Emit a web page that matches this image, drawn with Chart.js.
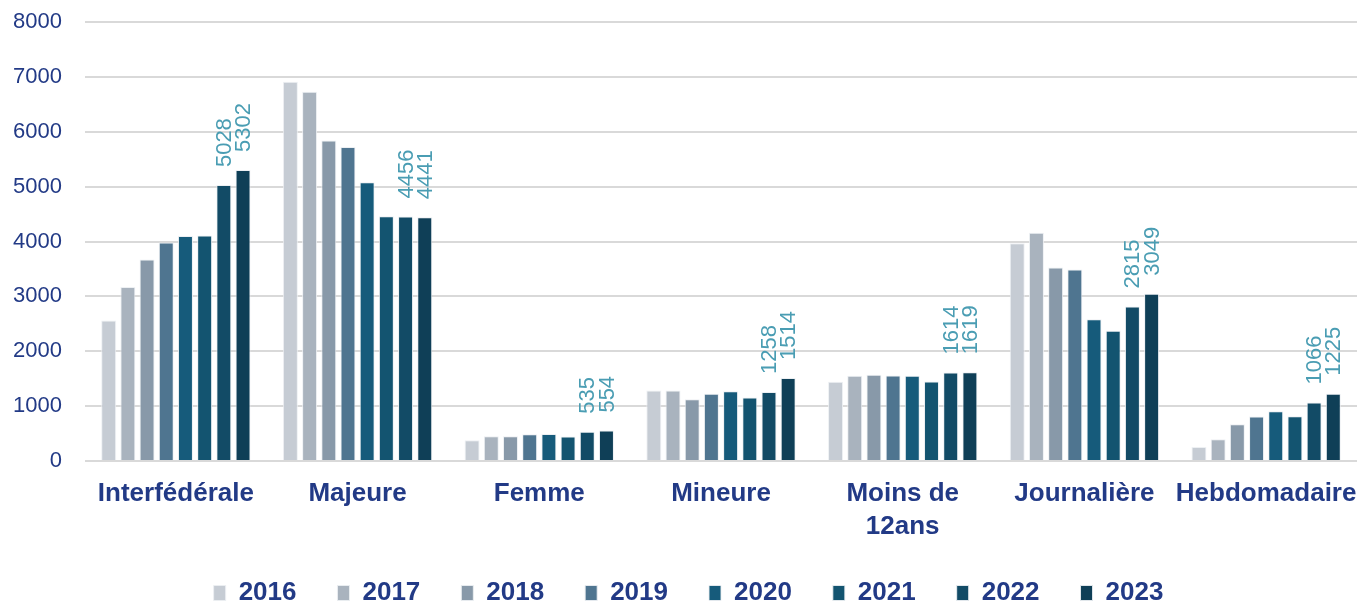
<!DOCTYPE html>
<html>
<head>
<meta charset="utf-8">
<script src="https://cdn.jsdelivr.net/npm/chart.js@4/dist/chart.umd.min.js"></script>
<style>
html,body{margin:0;padding:0;background:#fff;}
#wrap{width:1357px;height:601px;position:relative;}
</style>
</head>
<body>
<div id="wrap"><canvas id="graf"></canvas></div>
<script>
const categories=['Interfédérale','Majeure','Femme','Mineure',['Moins de','12ans'],'Journalière','Hebdomadaire'];
const years=['2016','2017','2018','2019','2020','2021','2022','2023'];
const v2016=[2560,6910,380,1284,1443,3970,256];
const v2017=[3170,6730,450,1284,1553,4159,396];
const v2018=[3670,5840,450,1127,1571,3525,670];
const v2019=[3980,5720,487,1224,1559,3489,810];
const v2020=[4100,5080,493,1273,1553,2581,907];
const v2021=[4110,4460,445,1157,1449,2374,816];
const v2022=[5028,4456,535,1258,1614,2815,1066];
const v2023=[5302,4441,554,1514,1619,3049,1225];
const yTicks=[0,1000,2000,3000,4000,5000,6000,7000,8000];

const series=[v2016,v2017,v2018,v2019,v2020,v2021,v2022,v2023];
const couleurs=['#c6ccd4','#a9b3be','#8899a9','#4f7590','#165b7b','#135470','#124b66','#0f3f57'];
const NAVY='#223a86';
const FONT='"Liberation Sans", Arial, sans-serif';
const ETIQ=[6,7]; // datasets avec etiquettes

// etiquettes verticales au-dessus des barres
const etiquettes={
 id:'etiquettes',
 afterLayout(chart){
  // petit decalage de la legende vers la droite
  if(chart.legend){chart.legend.left+=4;chart.legend.right+=4;}
 },
 afterDatasetsDraw(chart){
  const ctx=chart.ctx;
  ctx.save();
  ctx.font='22px '+FONT;
  ctx.fillStyle='#4a9db3';
  ctx.textAlign='left';
  ctx.textBaseline='middle';
  ETIQ.forEach(di=>{
   const meta=chart.getDatasetMeta(di);
   meta.data.forEach((bar,i)=>{
    ctx.save();
    ctx.translate(bar.x,bar.y-18);
    ctx.rotate(-Math.PI/2);
    ctx.fillText(String(chart.data.datasets[di].data[i]),0,1);
    ctx.restore();
   });
  });
  ctx.restore();
 }
};

const ctx=document.getElementById('graf').getContext('2d');
new Chart(ctx,{
 type:'bar',
 data:{
  labels:categories,
  datasets:years.map((y,i)=>({
   label:y,
   data:series[i],
   backgroundColor:couleurs[i],
   borderColor:'rgba(235,238,242,0.9)',
   borderWidth:1,
   barPercentage:0.78,
   categoryPercentage:0.845
  }))
 },
 options:{
  responsive:true,
  maintainAspectRatio:false,
  animation:false,
  layout:{padding:{left:12,right:0,top:22,bottom:-15}},
  scales:{
   x:{
    grid:{display:false,drawTicks:false},
    border:{display:false},
    afterFit:s=>{s.height=78;s.paddingLeft=0;s.paddingRight=0;},
    ticks:{
     color:NAVY,
     font:{family:FONT,size:26,weight:'bold',lineHeight:1.25},
     padding:17,
     maxRotation:0,
     autoSkip:false
    }
   },
   y:{
    min:0,max:8000,
    afterBuildTicks:ax=>{ax.ticks=yTicks.map(v=>({value:v}));},
    afterFit:s=>{s.width=73;s.paddingTop=0;s.paddingBottom=0;},
    grid:{color:'#d9d9d9',lineWidth:2,drawTicks:false},
    border:{display:false},
    ticks:{
     color:NAVY,
     font:{family:FONT,size:22},
     padding:23,
     callback:v=>String(v)
    }
   }
  },
  plugins:{
   legend:{
    position:'bottom',
    labels:{
     color:NAVY,
     font:{family:FONT,size:26,weight:'bold'},
     boxWidth:12,
     boxHeight:15,
     padding:41
    }
   },
   tooltip:{enabled:false}
  }
 },
 plugins:[etiquettes]
});
</script>
</body>
</html>
